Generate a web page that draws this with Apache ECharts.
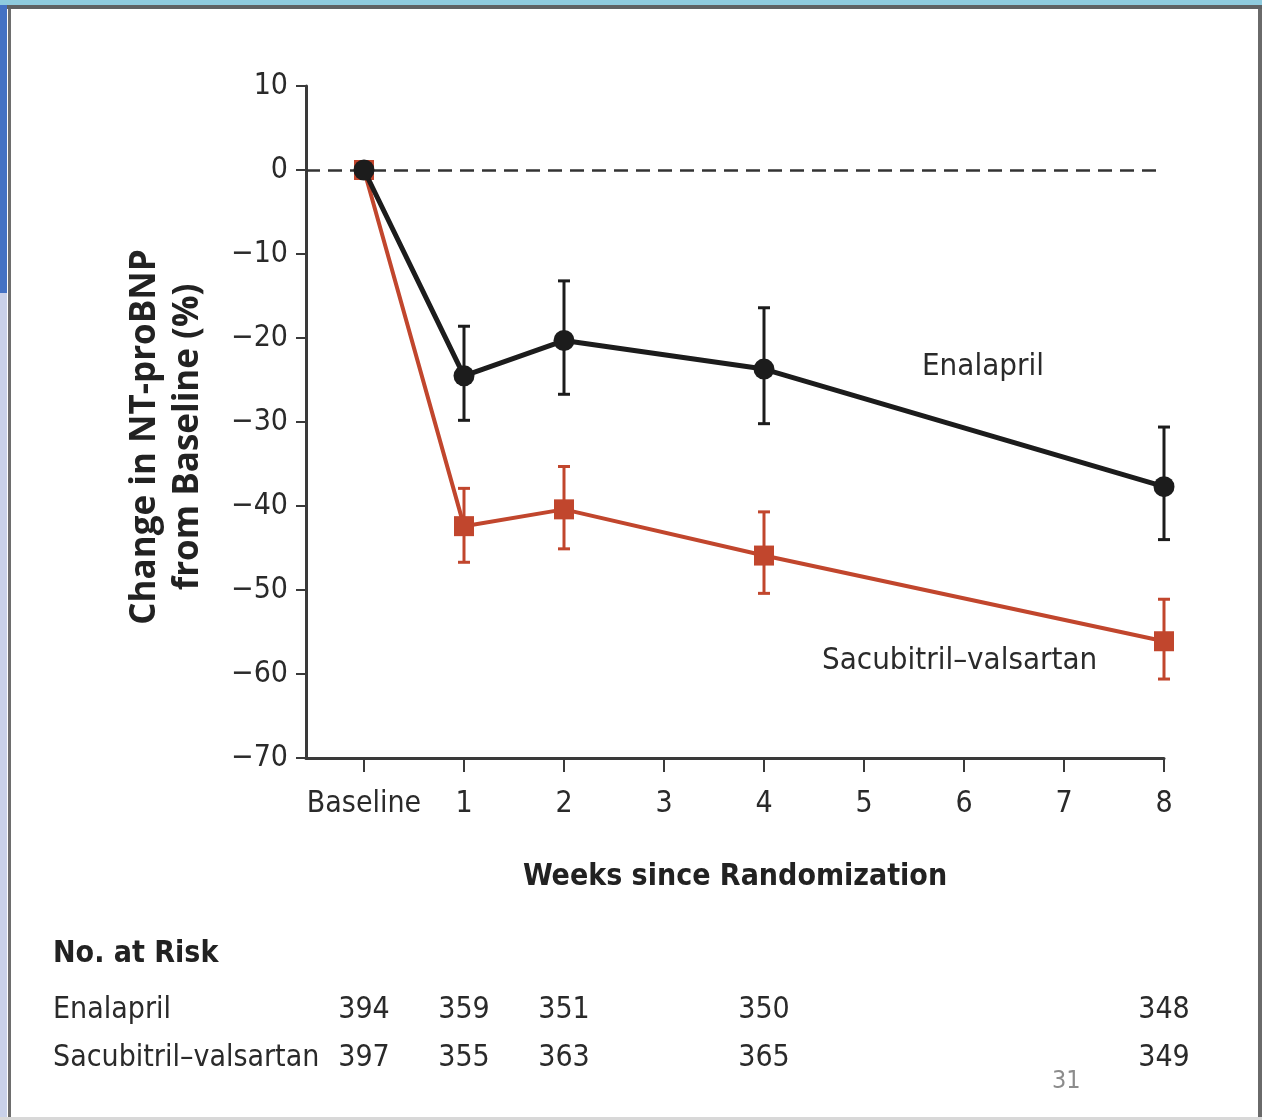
<!DOCTYPE html>
<html>
<head>
<meta charset="utf-8">
<script src="https://cdn.jsdelivr.net/npm/echarts@6/dist/echarts.min.js"></script>
<style>
  html, body { margin: 0; padding: 0; background: #ffffff; }
  #frame { position: relative; width: 1262px; height: 1120px; overflow: hidden; background: #ffffff; }
  .deco { position: absolute; }
  #chart { position: absolute; left: 0; top: 0; width: 1262px; height: 1120px; }
</style>
</head>
<body>
<div id="frame">
  <div class="deco" style="left:0;top:0;width:1262px;height:5px;background:#8ecbde;"></div>
  <div class="deco" style="left:0;top:5px;width:1262px;height:4px;background:#5f6264;"></div>
  <div class="deco" style="left:0;top:5px;width:7px;height:288px;background:#4472c4;"></div>
  <div class="deco" style="left:0;top:293px;width:7px;height:827px;background:#c9d1e9;"></div>
  <div class="deco" style="left:8px;top:9px;width:3px;height:1111px;background:#6e6e6e;"></div>
  <div class="deco" style="left:1258px;top:9px;width:4px;height:1111px;background:#6a6a6a;"></div>
  <div class="deco" style="left:0;top:1117px;width:1262px;height:3px;background:#d8d8d8;"></div>
  <div id="chart"></div>
</div>
<script>
// ---- data ----
var weeks = [0, 1, 2, 4, 8];
var enalaprilMean = [0, -24.5, -20.3, -23.7, -37.7];
var enalaprilLow  = [0, -29.8, -26.7, -30.2, -44.0];
var enalaprilHigh = [0, -18.6, -13.2, -16.4, -30.6];
var sacubitrilMean = [0, -42.4, -40.4, -45.9, -56.1];
var sacubitrilLow  = [0, -46.7, -45.1, -50.4, -60.6];
var sacubitrilHigh = [0, -37.9, -35.3, -40.7, -51.1];
var xTickValues = [0, 1, 2, 3, 4, 5, 6, 7, 8];
var xTickLabels = ['Baseline', '1', '2', '3', '4', '5', '6', '7', '8'];
var riskRows = ['Enalapril', 'Sacubitril\u2013valsartan'];
var riskWeeks = [0, 1, 2, 4, 8];
var riskEnalapril = [394, 359, 351, 350, 348];
var riskSacubitril = [397, 355, 363, 365, 349];

var NARROW = "'DejaVu Sans Condensed', 'Liberation Sans Narrow', 'Liberation Sans', sans-serif";
var BOLD_WIDE = "'Open Sans', 'Noto Sans', 'DejaVu Sans', sans-serif";
var BLACK = '#1c1c1c';
var RED = '#c1462d';
var AXIS = '#3a3a3a';
var TEXT = '#2a2a2a';

function pairs(xs, ys) { return xs.map(function (x, i) { return [x, ys[i]]; }); }
function triples(xs, lo, hi) { return xs.map(function (x, i) { return [x, lo[i], hi[i]]; }).filter(function (d) { return d[1] !== d[2]; }); }

function errorBar(color, width) {
  return function (params, api) {
    var x = api.value(0);
    var top = api.coord([x, api.value(2)]);
    var bot = api.coord([x, api.value(1)]);
    var cap = 6;
    var style = { stroke: color, lineWidth: width };
    return {
      type: 'group',
      children: [
        { type: 'line', shape: { x1: top[0], y1: top[1], x2: bot[0], y2: bot[1] }, style: style },
        { type: 'line', shape: { x1: top[0] - cap, y1: top[1], x2: top[0] + cap, y2: top[1] }, style: style },
        { type: 'line', shape: { x1: bot[0] - cap, y1: bot[1], x2: bot[0] + cap, y2: bot[1] }, style: style }
      ]
    };
  };
}

var riskLabel = { show: true, position: 'inside', fontFamily: NARROW, fontSize: 30, color: TEXT, opacity: 1 };
var riskData = [];
riskWeeks.forEach(function (w, i) {
  riskData.push({ value: [w, riskRows[0]], label: Object.assign({}, riskLabel, { formatter: String(riskEnalapril[i]) }) });
  riskData.push({ value: [w, riskRows[1]], label: Object.assign({}, riskLabel, { formatter: String(riskSacubitril[i]) }) });
});

var chart = echarts.init(document.getElementById('chart'), null, { renderer: 'canvas' });
chart.setOption({
  animation: false,
  backgroundColor: 'transparent',
  grid: [
    { left: 306, right: 98, top: 86, bottom: 362, containLabel: false },
    { left: 306, right: 98, top: 986, height: 96, containLabel: false }
  ],
  xAxis: [
    {
      gridIndex: 0, type: 'value', min: -0.58, max: 8,
      splitLine: { show: false },
      axisLine: { show: true, onZero: false, lineStyle: { color: AXIS, width: 3 } },
      axisTick: { show: true, length: 14, customValues: xTickValues, lineStyle: { color: AXIS, width: 2 } },
      axisLabel: {
        customValues: xTickValues, margin: 31, fontFamily: NARROW, fontSize: 30, color: TEXT,
        formatter: function (v) { var i = xTickValues.indexOf(v); return i >= 0 ? xTickLabels[i] : ''; }
      },
      name: 'Weeks since Randomization', nameLocation: 'middle', nameGap: 104,
      nameTextStyle: { fontFamily: NARROW, fontWeight: 'bold', fontSize: 30, color: '#222' }
    },
    {
      gridIndex: 1, type: 'value', min: -0.58, max: 8, show: false
    }
  ],
  yAxis: [
    {
      gridIndex: 0, type: 'value', min: -70, max: 10, interval: 10,
      splitLine: { show: false },
      axisLine: { show: true, onZero: false, lineStyle: { color: AXIS, width: 3 } },
      axisTick: { show: true, inside: false, length: 10, lineStyle: { color: AXIS, width: 2 } },
      axisLabel: {
        margin: 18, fontFamily: NARROW, fontSize: 30, color: TEXT,
        formatter: function (v) { return v < 0 ? '\u2212' + Math.abs(v) : String(v); }
      },
      name: 'Change in NT-proBNP\nfrom Baseline (%)', nameLocation: 'middle', nameGap: 96, nameRotate: 90,
      nameTextStyle: { fontFamily: BOLD_WIDE, fontWeight: 'bold', fontSize: 35, lineHeight: 43, color: '#222', align: 'center', padding: [0, 30, 0, 0] }
    },
    {
      gridIndex: 1, type: 'category', data: riskRows, inverse: true,
      axisLine: { show: false }, axisTick: { show: false }, splitLine: { show: false },
      axisLabel: { align: 'left', margin: 253, fontFamily: NARROW, fontSize: 30, color: TEXT }
    }
  ],
  title: {
    text: 'No. at Risk', left: 53, top: 939, padding: 0,
    textStyle: { fontFamily: NARROW, fontWeight: 'bold', fontSize: 30, color: '#222' }
  },
  graphic: [
    { type: 'text', left: 922, top: 351, style: { text: 'Enalapril', font: "31px " + NARROW, fill: TEXT } },
    { type: 'text', left: 822, top: 645, style: { text: 'Sacubitril\u2013valsartan', font: "31px " + NARROW, fill: TEXT } },
    { type: 'text', left: 1052, top: 1069, style: { text: '31', font: "25px " + NARROW, fill: '#8c8c8c' } }
  ],
  series: [
    {
      name: 'Sacubitril errors', type: 'custom', xAxisIndex: 0, yAxisIndex: 0, z: 2,
      renderItem: errorBar(RED, 3), data: triples(weeks, sacubitrilLow, sacubitrilHigh), silent: true
    },
    {
      name: 'Enalapril errors', type: 'custom', xAxisIndex: 0, yAxisIndex: 0, z: 3,
      renderItem: errorBar(BLACK, 3), data: triples(weeks, enalaprilLow, enalaprilHigh), silent: true
    },
    {
      name: 'Sacubitril\u2013valsartan', type: 'line', xAxisIndex: 0, yAxisIndex: 0, z: 4,
      data: pairs(weeks, sacubitrilMean),
      symbol: 'rect', symbolSize: 20, showAllSymbol: true,
      lineStyle: { color: RED, width: 4 }, itemStyle: { color: RED }
    },
    {
      name: 'Enalapril', type: 'line', xAxisIndex: 0, yAxisIndex: 0, z: 5,
      data: pairs(weeks, enalaprilMean),
      symbol: 'circle', symbolSize: 21, showAllSymbol: true,
      lineStyle: { color: BLACK, width: 5 }, itemStyle: { color: BLACK },
      markLine: {
        silent: true, symbol: ['none', 'none'], label: { show: false }, z: 1,
        lineStyle: { color: '#333', width: 2.5, type: [14, 8] },
        data: [{ yAxis: 0 }]
      }
    },
    {
      name: 'No. at risk', type: 'scatter', xAxisIndex: 1, yAxisIndex: 1,
      symbolSize: 0, data: riskData, silent: true,
      itemStyle: { opacity: 1, color: TEXT },
      label: riskLabel
    }
  ]
});
</script>
</body>
</html>
